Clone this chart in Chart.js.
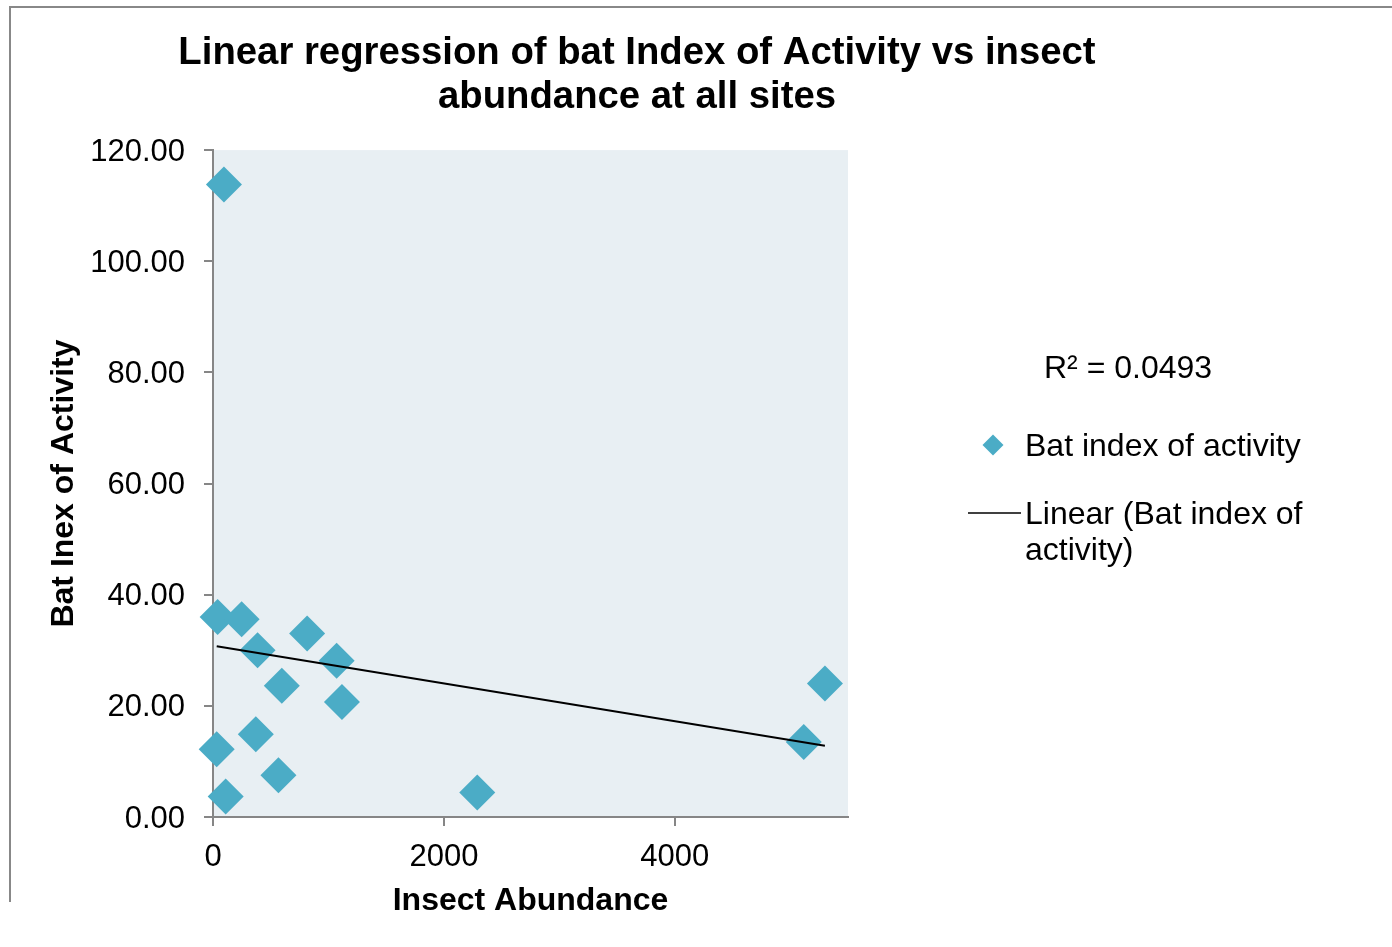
<!DOCTYPE html>
<html>
<head>
<meta charset="utf-8">
<title>Bat activity vs insect abundance</title>
<script src="https://cdn.jsdelivr.net/npm/chart.js@4"></script>
<style>
    body { margin: 0; background: #fff; overflow: hidden; }
    #wrap { position: relative; width: 1392px; height: 947px; }
    #frame {
        position: absolute; left: 9px; top: 6px; width: 1400px; height: 894px;
        border-top: 2px solid #888; border-left: 2px solid #888; pointer-events: none;
    }
</style>
</head>
<body>
<div id="wrap">
    <canvas id="Chart1" width="1392" height="947"></canvas>
    <div id="frame"></div>
</div>
<script>
// values
const insectAbundance = [95, 40, 248, 386, 815, 1071, 596, 1117, 371, 32, 567, 110, 2289, 5117, 5300];
const batIndex = [113.8, 36.0, 35.6, 30.0, 33.0, 28.1, 23.6, 20.7, 14.9, 12.2, 7.5, 3.7, 4.4, 13.5, 24.0];
const yTicks = [0, 20, 40, 60, 80, 100, 120];
const xTicks = [0, 2000, 4000];
const xMax = 5500;
const rSquaredText = 'R\u00b2 = 0.0493';
const seriesName = 'Bat index of activity';
const trendName = ['Linear (Bat index of', 'activity)'];

const FONT = "'Liberation Sans', Arial, sans-serif";
const markerColor = '#4bacc6';
const axisColor = '#868686';

// least squares line, drawn from smallest to largest x like the excel trendline
function trendLine(xs, ys) {
    const n = xs.length;
    const mx = xs.reduce((a, b) => a + b, 0) / n;
    const my = ys.reduce((a, b) => a + b, 0) / n;
    let sxy = 0, sxx = 0;
    for (let i = 0; i < n; i++) {
        sxy += (xs[i] - mx) * (ys[i] - my);
        sxx += (xs[i] - mx) * (xs[i] - mx);
    }
    const slope = sxy / sxx;
    const x0 = Math.min(...xs), x1 = Math.max(...xs);
    return [
        {x: x0, y: my + slope * (x0 - mx)},
        {x: x1, y: my + slope * (x1 - mx)}
    ];
}

const points = insectAbundance.map((x, i) => ({x: x, y: batIndex[i]}));

const plotBackground = {
    id: 'plotBackground',
    beforeDraw(chart) {
        const a = chart.chartArea;
        const ctx = chart.ctx;
        ctx.save();
        ctx.fillStyle = '#e8eff3';
        ctx.fillRect(a.left, a.top, a.right - a.left, a.bottom - a.top);
        ctx.restore();
    }
};

const sideLegend = {
    id: 'sideLegend',
    afterDraw(chart) {
        const ctx = chart.ctx;
        ctx.save();
        ctx.font = '32px ' + FONT;
        ctx.fillStyle = '#000';
        ctx.textBaseline = 'middle';
        ctx.textAlign = 'left';
        ctx.fillText(rSquaredText, 1044, 369);

        ctx.fillStyle = markerColor;
        ctx.beginPath();
        ctx.moveTo(993, 434.5);
        ctx.lineTo(1003.5, 445);
        ctx.lineTo(993, 455.5);
        ctx.lineTo(982.5, 445);
        ctx.closePath();
        ctx.fill();
        ctx.fillStyle = '#000';
        ctx.fillText(seriesName, 1025, 447);

        ctx.strokeStyle = '#000';
        ctx.lineWidth = 1.5;
        ctx.beginPath();
        ctx.moveTo(968, 513);
        ctx.lineTo(1021, 513);
        ctx.stroke();
        ctx.fillText(trendName[0], 1025, 515);
        ctx.fillText(trendName[1], 1025, 551);
        ctx.restore();
    }
};

const ctx = document.getElementById('Chart1').getContext('2d');
new Chart(ctx, {
    type: 'scatter',
    data: {
        datasets: [{
                label: trendName.join(' '),
                data: trendLine(insectAbundance, batIndex),
                showLine: true,
                borderColor: '#000',
                borderWidth: 2,
                pointRadius: 0,
                clip: false,
                order: 0
            }, {
                label: seriesName,
                data: points,
                pointStyle: 'rectRot',
                pointRadius: 18,
                backgroundColor: markerColor,
                borderColor: markerColor,
                borderWidth: 0,
                clip: false,
                order: 1
            }]
    },
    options: {
        responsive: false,
        animation: false,
        devicePixelRatio: 1,
        layout: {padding: {left: 0, right: 118, top: 0, bottom: 0}},
        plugins: {
            legend: {display: false},
            tooltip: {enabled: false},
            title: {
                display: true,
                text: ['Linear regression of bat Index of Activity vs insect', 'abundance at all sites'],
                color: '#000',
                font: {family: FONT, size: 38.3, weight: 'bold', lineHeight: 1.15},
                padding: {top: 31, bottom: 31}
            }
        },
        scales: {
            x: {
                type: 'linear',
                min: 0,
                max: xMax,
                afterBuildTicks: function (scale) {
                    scale.ticks = xTicks.map(v => ({value: v}));
                },
                afterFit: function (scale) {
                    scale.height = 130;
                },
                ticks: {
                    color: '#000',
                    font: {family: FONT, size: 31},
                    padding: 13,
                    maxRotation: 0,
                    callback: v => String(v)
                },
                grid: {drawOnChartArea: false, tickLength: 9, color: axisColor, lineWidth: 2},
                border: {color: axisColor, width: 2},
                title: {
                    display: true,
                    text: 'Insect Abundance',
                    color: '#000',
                    font: {family: FONT, size: 32, weight: 'bold'},
                    padding: {top: 0, bottom: 27}
                }
            },
            y: {
                min: 0,
                max: 120,
                afterBuildTicks: function (scale) {
                    scale.ticks = yTicks.map(v => ({value: v}));
                },
                afterFit: function (scale) {
                    scale.width = 213;
                },
                ticks: {
                    color: '#000',
                    font: {family: FONT, size: 31},
                    padding: 19,
                    labelOffset: 2,
                    callback: v => v.toFixed(2)
                },
                grid: {drawOnChartArea: false, tickLength: 9, color: axisColor, lineWidth: 2},
                border: {color: axisColor, width: 2},
                title: {
                    display: true,
                    text: 'Bat Inex of Activity',
                    color: '#000',
                    font: {family: FONT, size: 32, weight: 'bold'},
                    padding: {top: 45, bottom: 0}
                }
            },
            side: {
                type: 'linear',
                position: 'right',
                display: true,
                afterFit: function (scale) {
                    scale.width = 426;
                },
                ticks: {display: false},
                grid: {display: false},
                border: {display: false}
            }
        }
    },
    plugins: [plotBackground, sideLegend]
});
</script>
</body>
</html>
